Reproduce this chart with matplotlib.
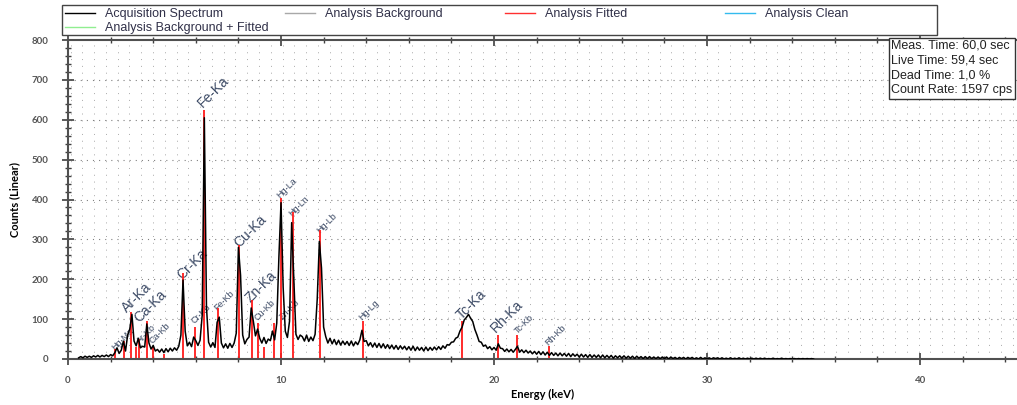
import numpy as np
import matplotlib
matplotlib.use('Agg')
import matplotlib.pyplot as plt
from matplotlib.lines import Line2D
from matplotlib.patches import Rectangle

## acquisition spectrum, 0.1 keV channels starting at 0.5 keV
e_start = 0.5
counts = [
    3, 6, 3, 7, 4,
    7, 4, 8, 5, 9, 5, 9, 6, 10, 6,
    11, 8, 16, 28, 14, 22, 45, 20, 60, 75,
    112, 45, 33, 52, 28, 32, 30, 88, 40, 25,
    34, 20, 24, 17, 25, 16, 26, 18, 27, 20,
    28, 22, 32, 60, 198, 70, 33, 42, 31, 55,
    46, 34, 47, 110, 605, 130, 42, 30, 41, 29,
    92, 105, 40, 28, 38, 27, 39, 29, 40, 65,
    280, 210, 60, 38, 49, 55, 128, 95, 58, 75,
    52, 40, 54, 39, 50, 46, 70, 48, 90, 255,
    392, 180, 70, 54, 95, 342, 205, 62, 49, 60,
    56, 45, 60, 44, 55, 46, 62, 150, 295, 228,
    80, 56, 40, 52, 38, 49, 36, 47, 35, 45,
    36, 44, 34, 45, 33, 43, 36, 48, 72, 44,
    46, 33, 41, 30, 40, 29, 39, 28, 38, 27,
    36, 26, 35, 25, 34, 24, 33, 25, 32, 23,
    31, 22, 32, 21, 30, 22, 29, 20, 30, 21,
    29, 22, 30, 23, 31, 24, 33, 27, 36, 35,
    42, 43, 52, 55, 70, 80, 98, 104, 112, 102,
    94, 74, 60, 44, 42, 32, 35, 26, 31, 23,
    29, 22, 38, 27, 26, 19, 25, 18, 24, 17,
    24, 32, 17, 23, 16, 22, 15, 20, 13, 19,
    12, 19, 11, 18, 10, 17, 9, 16, 9, 15,
    8, 15, 8, 14, 7, 14, 6, 13, 7, 12,
    5, 12, 5, 11, 4, 11, 4, 10, 4, 10,
    3, 10, 3, 9, 3, 9, 2, 8, 3, 8,
    2, 8, 2, 7, 2, 7, 1, 7, 2, 6,
    1, 6, 1, 6, 1, 5, 1, 5, 1, 5,
    1, 5, 0, 5, 1, 4, 0, 4, 1, 4,
    0, 4, 1, 4, 0, 3, 0, 4, 0, 3,
    0, 3, 0, 3, 1, 3, 0, 3, 0, 2,
    0, 3, 0, 2, 0, 3, 0, 2, 0, 2,
    0, 2, 0, 2, 0, 2, 0, 2, 0, 1,
    0, 2, 0, 1, 0, 2, 0, 1, 0, 1,
    0, 1, 0, 1, 0, 1, 0, 1, 0, 1,
    0,
]
energy = e_start + 0.1 * np.arange(len(counts))

## fitted element lines (keV, counts)
fit_e = [2.20, 2.62, 2.96, 3.19, 3.31, 3.69, 4.01, 4.51, 5.41, 5.95, 6.40, 7.06,
         8.05, 8.64, 8.90, 9.20, 9.65, 9.99, 10.55, 11.82, 13.83, 18.50, 20.20,
         21.10, 22.60]
fit_c = [25, 45, 118, 30, 50, 95, 30, 12, 215, 80, 625, 128,
         286, 148, 90, 30, 90, 403, 368, 323, 95, 95, 60,
         60, 33]

## peak labels: text, energy, counts, large font?
lab_text = ['Hg-Ma', 'Ar-Ka', 'Ca-Ka', 'Ar-Kb', 'Ca-Kb', 'Cr-Ka', 'Cr-Kb', 'Fe-Ka',
            'Fe-Kb', 'Cu-Ka', 'Zn-Ka', 'Cu-Kb', 'Zn-Kb', 'Hg-La', 'Hg-Ln', 'Hg-Lb',
            'Hg-Lg', 'Tc-Ka', 'Rh-Ka', 'Tc-Kb', 'Rh-Kb']
lab_e = [2.25, 2.86, 3.43, 3.43, 4.04, 5.45, 6.0, 6.45,
         7.09, 8.12, 8.69, 8.97, 10.15, 10.0, 10.56, 11.88,
         13.85, 18.6, 20.2, 21.2, 22.6]
lab_c = [18, 110, 85, 35, 35, 193, 85, 625,
         118, 273, 135, 93, 95, 398, 353, 310,
         93, 93, 60, 60, 28]
lab_big = [False, True, True, False, False, True, False, True,
           False, True, True, False, False, False, False, False,
           False, True, True, False, False]

info_lines = ['Meas. Time: 60,0 sec', 'Live Time: 59,4 sec',
              'Dead Time: 1,0 %', 'Count Rate: 1597 cps']

legend_names = ['Acquisition Spectrum', 'Analysis Background', 'Analysis Fitted',
                'Analysis Clean', 'Analysis Background + Fitted']
legend_colors = ['black', '#a8a8a8', '#ff3030', '#33bbee', '#90ee90']

W, H = 1017, 405
fig = plt.figure(figsize=(W / 100, H / 100), dpi=100)
ax = fig.add_axes([68 / W, 46 / H, 1 - 68 / W, 319 / H])

# dotted grid
for g in np.arange(0.12, 44.6, 0.553):
    ax.axvline(g, color='#a8a8a8', lw=0.7, ls=(0, (1, 6)), zorder=0)
for g in range(100, 800, 100):
    ax.axhline(g, color='#808080', lw=0.8, ls=(0, (1, 4.5)), zorder=0)

ax.vlines(fit_e, 0, fit_c, color='#ff1a1a', lw=1.3, zorder=2)
ax.plot(energy, counts, color='black', lw=1.1, zorder=3)

for t, x, y, big in zip(lab_text, lab_e, lab_c, lab_big):
    ax.text(x, y, t, rotation=45, rotation_mode='anchor', ha='left', va='bottom',
            fontsize=10 if big else 6.5, color='#3d4b66', family='Liberation Sans',
            zorder=1)

ax.set_xlim(0, 44.55)
ax.set_ylim(0, 800)
ax.set_xticks(np.arange(0, 45, 10))
ax.set_xticks(np.arange(0, 45, 2), minor=True)
ax.set_yticks(np.arange(0, 801, 100))
ax.set_yticks(np.arange(0, 801, 20), minor=True)
ax.tick_params(axis='both', which='major', direction='inout', length=8, width=1.2,
               colors='#404040', labelsize=7, labelcolor='#555555', top=True)
ax.tick_params(axis='both', which='minor', direction='inout', length=5, width=1,
               colors='#404040', top=True)
ax.tick_params(axis='y', pad=10)
ax.tick_params(axis='x', pad=8)
for lab in ax.get_xticklabels() + ax.get_yticklabels():
    lab.set_family('Lato')
    lab.set_fontweight('bold')
ax.spines['right'].set_visible(False)
for s in ['left', 'bottom', 'top']:
    ax.spines[s].set_color('#505050')
    ax.spines[s].set_linewidth(1.5)

ax.set_xlabel('Energy (keV)', fontsize=8, fontweight='bold', family='Lato', labelpad=3)
ax.set_ylabel('Counts (Linear)', fontsize=8, fontweight='bold', family='Lato', labelpad=8)

# info box
fig.text(891 / W, 1 - 40 / H, '\n'.join(info_lines), ha='left', va='top',
         fontsize=9, family='Liberation Sans', color='#222222', linespacing=1.3,
         bbox=dict(boxstyle='square,pad=0.2', fc='white', ec='#333333', lw=1))

# legend box drawn in pixel positions like the original
fig.add_artist(Rectangle((62 / W, 1 - 35 / H), 875 / W, 30 / H, transform=fig.transFigure,
                         fc='white', ec='#444444', lw=1))
col_x = [65, 285, 505, 725, 65]
row_y = [13, 13, 13, 13, 27]
for name, c, x, y in zip(legend_names, legend_colors, col_x, row_y):
    fig.add_artist(Line2D([x / W, (x + 30) / W], [1 - y / H, 1 - y / H],
                          transform=fig.transFigure, color=c, lw=1))
    fig.text((x + 40) / W, 1 - y / H, name, ha='left', va='center_baseline', fontsize=9,
             family='Liberation Sans', color='#303048')

fig.savefig('out.png', dpi=100)
